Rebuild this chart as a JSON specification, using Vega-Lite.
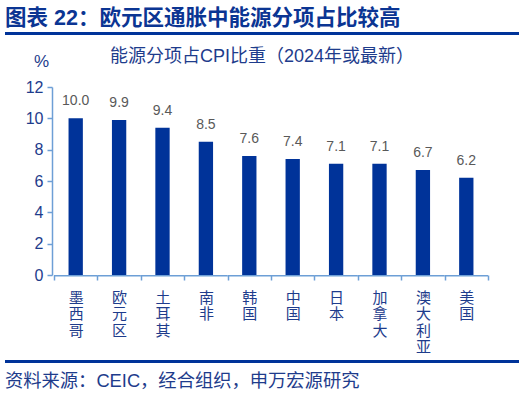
{
  "$schema": "https://vega.github.io/schema/vega-lite/v6.json",
  "background": "white",
  "padding": {"left": 5, "top": 7, "right": 5, "bottom": 5},
  "spacing": 5,
  "title": {
    "text": "图表 22：欧元区通胀中能源分项占比较高",
    "anchor": "start",
    "frame": "bounds",
    "fontSize": 21.5,
    "fontWeight": "bold",
    "color": "#0b3593",
    "offset": 3,
    "font": "Liberation Sans, Noto Sans CJK SC"
  },
  "vconcat": [
    {
      "width": 514,
      "height": 3,
      "view": {"fill": "#003399", "stroke": null},
      "data": {"values": []},
      "mark": {"type": "rule"},
      "encoding": {}
    },
    {
      "width": 514,
      "height": 188,
      "view": {"stroke": null},
      "title": {
        "text": ["", "能源分项占CPI比重（2024年或最新）"],
        "lineHeight": 8,
        "fontSize": 18,
        "fontWeight": "normal",
        "color": "#1e3c8c",
        "anchor": "middle",
        "frame": "group",
        "offset": -14,
        "font": "Liberation Sans, Noto Sans CJK SC"
      },
      "data": {
        "values": [
          {"country": "墨西哥", "value": 10.0},
          {"country": "欧元区", "value": 9.9},
          {"country": "土耳其", "value": 9.4},
          {"country": "南非", "value": 8.5},
          {"country": "韩国", "value": 7.6},
          {"country": "中国", "value": 7.4},
          {"country": "日本", "value": 7.1},
          {"country": "加拿大", "value": 7.1},
          {"country": "澳大利亚", "value": 6.7},
          {"country": "美国", "value": 6.2}
        ]
      },
      "encoding": {
        "x": {
          "field": "country",
          "type": "nominal",
          "sort": null,
          "scale": {"paddingInner": 0, "paddingOuter": 0.9217, "align": 0.6125},
          "axis": {
            "title": null,
            "domain": false,
            "labelAngle": 0,
            "tickBand": "extent",
            "labelExpr": "split(datum.label, '')",
            "labelLineHeight": 16.5,
            "labelFontSize": 15,
            "labelColor": "#1e3c8c",
            "labelBaseline": "top",
            "labelPadding": 10,
            "labelOverlap": false,
            "labelFont": "Noto Sans CJK SC",
            "tickSize": 5,
            "tickColor": "#6d9fd6",
            "tickWidth": 1.5
          }
        },
        "y": {
          "field": "value",
          "type": "quantitative",
          "scale": {"domain": [0, 12], "nice": false},
          "axis": {
            "title": "%",
            "titleAngle": 0,
            "titleX": -11,
            "titleY": -26,
            "titleAlign": "center",
            "titleBaseline": "middle",
            "titleFontSize": 17,
            "titleFontWeight": "normal",
            "titleColor": "#1e3c8c",
            "titleFont": "Liberation Sans",
            "values": [0, 2, 4, 6, 8, 10, 12],
            "labelOverlap": false,
            "grid": false,
            "offset": -47,
            "minExtent": 0,
            "labelFontSize": 16,
            "labelColor": "#1e3c8c",
            "labelFont": "Liberation Sans",
            "labelPadding": 4,
            "tickSize": 5,
            "tickColor": "#6d9fd6",
            "domainColor": "#6d9fd6",
            "domainWidth": 1.5,
            "tickWidth": 1.5
          }
        }
      },
      "layer": [
        {
          "mark": {"type": "bar", "color": "#6d9fd6", "width": {"band": 1}},
          "encoding": {
            "y": {"datum": 0, "type": "quantitative"},
            "y2": {"datum": -0.1}
          }
        },
        {
          "mark": {"type": "bar", "color": "#003399", "width": {"band": 0.33}}
        },
        {
          "mark": {
            "type": "text",
            "baseline": "bottom",
            "dy": -10,
            "fontSize": 14,
            "color": "#595959",
            "font": "Liberation Sans"
          },
          "encoding": {
            "text": {"field": "value", "type": "quantitative", "format": ".1f"}
          }
        }
      ]
    },
    {
      "width": 514,
      "height": 3,
      "view": {"fill": "#003399", "stroke": null},
      "title": {
        "text": "资料来源：CEIC，经合组织，申万宏源研究",
        "orient": "bottom",
        "anchor": "start",
        "frame": "group",
        "fontSize": 18.3,
        "fontWeight": "normal",
        "color": "#1e3c8c",
        "offset": 10,
        "font": "Liberation Sans, Noto Sans CJK SC"
      },
      "data": {"values": []},
      "mark": {"type": "rule"},
      "encoding": {}
    }
  ]
}
